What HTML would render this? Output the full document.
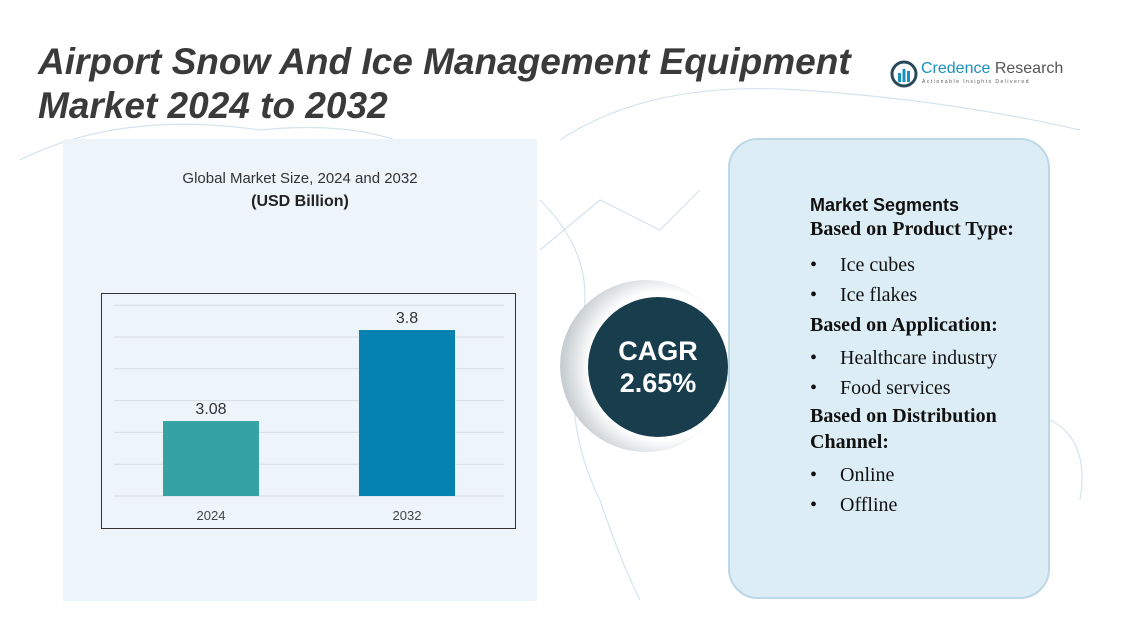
<!DOCTYPE html>
<html><head><meta charset="utf-8"><style>
body{margin:0;width:1137px;height:617px;overflow:hidden;background:#fff;font-family:"Liberation Sans",sans-serif;position:relative}
.abs{position:absolute}
.b{display:flex}.b span:first-child{width:30px}
</style></head><body>
<div class="abs" style="left:0;top:0;width:1137px;height:617px">
<svg width="1137" height="617"><g fill="none" stroke="#d4e4ec" stroke-width="1.2">
<path d="M20 160 Q120 110 260 130 Q360 120 420 150 Q470 170 520 160"/>
<path d="M560 140 Q650 80 800 90 Q950 100 1080 130"/>
<path d="M540 200 Q600 260 580 330 Q560 420 600 500 Q620 560 640 600"/>
<path d="M1050 420 Q1090 440 1080 500"/>
<path d="M540 250 L600 200 L660 230 L700 190"/>
</g></svg></div>
<div class="abs" style="left:63px;top:139px;width:474px;height:462px;background:#edf4fa"></div>
<div class="abs" style="left:38px;top:40px;font-size:37px;font-weight:bold;font-style:italic;color:#3a3a3a;line-height:44px">Airport Snow And Ice Management Equipment<br>Market 2024 to 2032</div>
<div class="abs" style="left:890px;top:60px;width:180px;height:30px">
<svg width="28" height="28" style="position:absolute;left:0;top:0"><circle cx="14" cy="14" r="12" fill="none" stroke="#2a4a5a" stroke-width="3"/><rect x="8" y="13" width="3" height="9" fill="#1a8fbf"/><rect x="12.5" y="9" width="3" height="13" fill="#1a8fbf"/><rect x="17" y="11" width="3" height="11" fill="#1a8fbf"/></svg>
<div style="position:absolute;left:31px;top:0;font-size:16px;color:#1a8fbf;white-space:nowrap">Credence <span style="color:#555">Research</span></div>
<div style="position:absolute;left:32px;top:19px;font-size:5px;letter-spacing:1.5px;color:#555;white-space:nowrap">Actionable Insights Delivered</div></div>
<div class="abs" style="left:63px;top:170px;width:474px;text-align:center;font-size:15px;color:#333">Global Market Size, 2024 and 2032</div>
<div class="abs" style="left:63px;top:193px;width:474px;text-align:center;font-size:16px;font-weight:bold;color:#222">(USD Billion)</div>
<svg class="abs" id="chart" style="left:0;top:0" width="1137" height="617"></svg>
<div class="abs" style="left:560px;top:280px;width:172px;height:172px;border-radius:50%;background:radial-gradient(circle at 60% 50%,#fff 55%,#c7cdd1 75%,#f4f4f4 100%)"></div>
<div class="abs" style="left:588px;top:297px;width:140px;height:140px;border-radius:50%;background:#183d4c;color:#fff;text-align:center;font-weight:bold;font-size:27px;line-height:32px;box-sizing:border-box;padding-top:38px">CAGR<br>2.65%</div>
<div class="abs" style="left:728px;top:138px;width:322px;height:461px;border:2px solid #bcd8e6;border-radius:30px;background:#ddedf6;box-sizing:border-box"></div>
<div class="abs" style="left:810px;top:194px;font-family:'Liberation Serif',serif;font-size:20px;color:#111;line-height:30px">
<div style="font-family:'Liberation Sans',sans-serif;font-weight:bold;font-size:18px;line-height:22px">Market Segments</div>
<div style="font-weight:bold;line-height:26px">Based on Product Type:</div>
<div class="b" style="margin-top:8px"><span>•</span><span>Ice cubes</span></div>
<div class="b"><span>•</span><span>Ice flakes</span></div>
<div style="font-weight:bold">Based on Application:</div>
<div class="b" style="margin-top:3px"><span>•</span><span>Healthcare industry</span></div>
<div class="b"><span>•</span><span>Food services</span></div>
<div style="font-weight:bold;line-height:26px">Based on Distribution<br>Channel:</div>
<div class="b" style="margin-top:5px"><span>•</span><span>Online</span></div>
<div class="b"><span>•</span><span>Offline</span></div>
</div>
<script>
const categories=["2024","2032"];
const values=[3.08,3.8];
const valueLabels=["3.08","3.8"];
const colors=["#35a3a3","#0682b2"];
const NS="http://www.w3.org/2000/svg";
const svg=document.getElementById('chart');
const base=496, k=126.4, vMin=2.487;
function y(v){return base-(v-vMin)*k;}
function x(i){return 163+i*196;}
function mk(t,a){const e=document.createElementNS(NS,t);for(const n in a)e.setAttribute(n,a[n]);svg.appendChild(e);return e;}
const fr=mk('rect',{x:101.5,y:293.5,width:414,height:235,fill:'none',stroke:'#333','stroke-width':1});


for(let g=0;g<7;g++){const gy=base-g*31.8;const l=mk('line',{x1:114,x2:504,y1:gy,y2:gy,stroke:'#d6dde2','stroke-width':1});

}
values.forEach((v,i)=>{
const r=mk('rect',{x:x(i),y:y(v),width:96,height:base-y(v),fill:colors[i]});


const t=mk('text',{x:x(i)+48,y:y(v)-7,'text-anchor':'middle','font-size':16,fill:'#333','font-family':'Liberation Sans'});t.textContent=valueLabels[i];


const c=mk('text',{x:x(i)+48,y:520,'text-anchor':'middle','font-size':13,fill:'#444','font-family':'Liberation Sans'});c.textContent=categories[i];


});
</script>
</body></html>
